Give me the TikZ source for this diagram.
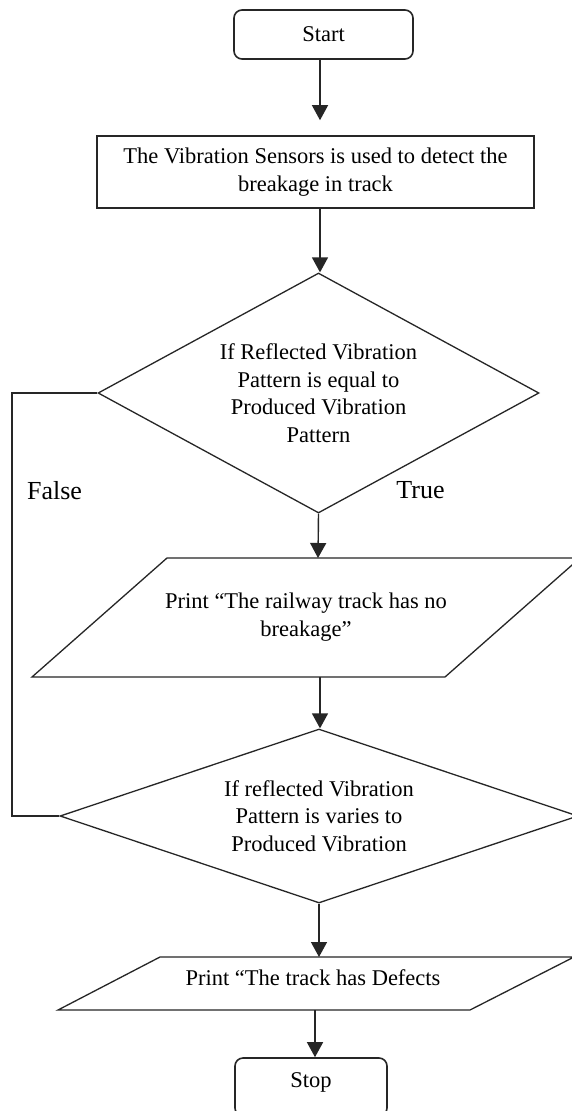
\documentclass[tikz,border=0pt]{standalone}
\usepackage{fontspec}
\setmainfont{Liberation Serif}
\usetikzlibrary{shapes.geometric,arrows.meta}
\begin{document}
\begin{tikzpicture}[x=1pt,y=-1pt,
  txt/.style={font=\fontsize{22.5}{27.5}\selectfont, align=center, inner sep=0pt},
  lbl/.style={font=\fontsize{26}{30}\selectfont, inner sep=0pt},
  shp/.style={draw=black!85, line width=1.3pt},
  term/.style={shp, txt, rectangle, rounded corners=8pt, line width=1.6pt},
  procbox/.style={shp, txt, rectangle, line width=1.6pt},
  dec/.style={shp, txt, diamond},
  arr/.style={draw=black!85, line width=1.4pt, -{Triangle[width=16pt,length=15pt]}},
  link/.style={draw=black!85, line width=1.4pt}
]
\useasboundingbox (0,0) rectangle (572,1111);
\clip (0,0) rectangle (572,1111);
\fill[white] (0,0) rectangle (572,1111);

\node[term, minimum width=179pt, minimum height=49pt] (start) at (323.5,34.5) {Start};
\node[procbox, minimum width=437pt, minimum height=72pt] (b2) at (315.5,172) {The Vibration Sensors is used to detect the\\breakage in track};
\node[dec, minimum width=441pt, minimum height=240pt, aspect=1.84] (d1) at (318.5,393) {If Reflected Vibration\\Pattern is equal to\\Produced Vibration\\Pattern};

\draw[shp] (32,677) coordinate (p1bl) -- (445,677) coordinate (p1br) -- (580,558) coordinate (p1tr) -- (167,558) coordinate (p1tl) -- cycle;
\node[txt] (p1) at (306,617) {Print “The railway track has no\\breakage”};

\node[dec, minimum width=518pt, minimum height=174pt, aspect=2.98] (d2) at (319,816) {If reflected Vibration\\Pattern is varies to\\Produced Vibration};

\draw[shp] (58,1010) coordinate (p2bl) -- (470,1010) coordinate (p2br) -- (574,957) coordinate (p2tr) -- (160,957) coordinate (p2tl) -- cycle;
\node[txt] (p2) at (313,978) {Print “The track has Defects};

\node[term, minimum width=152pt, minimum height=58pt] (stop) at (311,1087) {\raisebox{0pt}[5pt][5pt]{Stop}};

\node[lbl] (false) at (54.5,490.5) {False};
\node[lbl] (true) at (420.5,490.5) {True};

\coordinate (ax) at (320,0);
\coordinate (p1t) at (318,558);
\coordinate (p1b) at (320,677);
\coordinate (p2t) at (319,957);
\coordinate (p2b) at (315,1010);
\coordinate (fx) at (12,0);

\draw[arr, shorten >=15pt] (ax |- start.south) -- (ax |- b2.north);
\draw[arr] (ax |- b2.south) -- (ax |- d1.north);
\draw[arr] (d1.south) -- (p1t);
\draw[arr] (p1b) -- (p1b |- d2.north);
\draw[arr] (d2.south) -- (p2t);
\draw[arr] (p2b) -- (p2b |- stop.north);
\draw[link] (d1.west) -- (fx |- d1.west) -- (fx |- d2.west) -- (d2.west);
\end{tikzpicture}
\end{document}
